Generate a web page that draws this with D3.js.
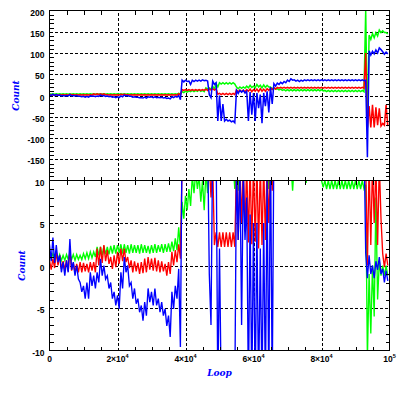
<!DOCTYPE html>
<html><head><meta charset="utf-8">
<script src="https://cdn.jsdelivr.net/npm/d3@7"></script>
<style>body{margin:0;background:#fff}svg{display:block}</style>
</head><body><svg id="c" width="399" height="399"></svg>
<script>
// ---- data (sample start loops, step 1000; each sample has a low and a high value) ----
const loops = d3.range(0, 100000, 1000);
const xMajor = [0, 20000, 40000, 60000, 80000, 100000];
const xTickLabels = [["0",""],["2×10","4"],["4×10","4"],["6×10","4"],["8×10","4"],["10","5"]];
const yTopTicks = [200,150,100,50,0,-50,-100,-150,-200];
const yTopLabels = [200,150,100,50,0,-50,-100,-150];
const yBotTicks = [10,5,0,-5,-10];

// top panel (Count, -200..200)
const topBlueLo = [0,0,0,-1,-1,-1,-1,-1,-2,-3, -4,-4,-2,-3,-2,-1,-2,-3,-4,-5, -5,-3,-1,-2,-4,-4,-5,-6,-6,-4,
  -5,-5,-5,-6,-7,-8,-5,-4,-10,32, 33,26,33,34,34,35,34,-5,26,-60, -60,-60,-60,-62,-64,5,8,6,-60,-45,
  -60,-30,-65,-25,-40,-20,22,26,28,30, 33,36,34,33,34,35,35,35,35,35, 35,35,35,35,35,35,35,35,35,35,
  35,35,35,-145,95,98,100,108,97,98];
const topBlueHi = [2,3,2,1,0,0,2,0,0,-2, -2,-2,-1,-1,-1,1,0,-1,-2,-3, -3,-1,1,0,-2,-3,-4,-5,-4,-3,
  -3,-3,-4,-4,-5,-6,-3,-2,0,36, 36,34,36,36,36,37,36,2,34,30, 0,-20,-56,-58,-60,12,12,12,10,8,
  6,6,2,6,10,20,28,29,31,33, 36,39,37,36,36,37,37,37,37,37, 37,37,37,37,37,37,37,37,37,37,
  37,37,37,36,105,104,107,112,103,102];
const topRedLo = [1,1,1,1,1,1,2,1,1,1, 1,1,1,2,2,2,2,1,1,1, 1,2,2,1,1,1,1,1,1,1,
  1,1,1,1,1,1,1,1,1,12, 12,12,12,12,12,12,12,13,13,3, 2,2,2,2,2,9,9,9,10,9,
  10,9,10,10,12,14,15,17,17,17, 17,17,17,17,17,17,17,17,17,17, 17,17,17,17,17,17,17,17,17,17,
  17,17,17,-75,-75,-75,-70,-72,-70,-72];
const topRedHi = [2,2,2,2,2,2,3,2,2,2, 2,2,2,4,4,4,4,2,2,2, 2,3,3,2,2,2,2,2,2,2,
  2,2,2,2,2,2,2,2,4,14, 14,14,14,14,14,14,15,16,16,16, 5,5,5,5,5,13,13,13,14,15,
  14,15,16,15,16,17,18,19,19,19, 19,19,19,19,19,19,19,19,19,19, 19,19,19,19,19,19,19,19,19,19,
  19,19,19,100,-25,-22,-28,-30,-66,-22];
const topGreenLo = [3,3,3,3,3,3,3,3,3,3, 3,3,3,3,3,3,3,3,3,3, 3,3,3,3,3,3,3,3,3,3,
  3,3,3,3,3,3,3,3,3,7, 8,9,9,10,10,9,15,15,15,20, 27,27,27,27,27,16,17,17,18,19,
  18,20,18,19,20,16,15,13,12,11, 11,11,11,11,11,11,11,11,11,11, 11,9,9,9,9,9,9,9,9,9,
  9,9,9,-77,132,136,140,148,148,145];
const topGreenHi = [4,4,4,4,4,4,4,4,4,4, 4,4,4,4,4,4,4,4,4,4, 4,4,4,4,4,4,4,4,4,4,
  4,4,4,4,4,4,4,4,5,9, 10,11,12,12,13,12,18,18,22,28, 30,30,30,30,30,20,20,20,22,24,
  22,26,24,25,24,20,18,16,15,14, 14,14,14,14,14,14,14,14,14,14, 14,12,12,12,12,12,12,12,12,12,
  12,12,12,200,142,146,148,154,152,148];

// bottom panel (Count, -10..10)
const botBlueLo = [0.5,0.3,0.4,-0.8,-1.2,-0.8,-0.5,-1.2,-1.6,-3.1, -3.9,-3.9,-2.4,-2.7,-2,-1.2,-1.6,-2.7,-3.9,-4.7,
  -5.1,-2.7,-0.8,-2.4,-3.9,-4.5,-5.5,-6.5,-5.9,-4.3, -4.7,-4.7,-5.5,-5.9,-7.1,-8.4,-5.1,-3.9,-9.6,15,
  15,15,15,15,15,15,15,-7,15,-15, -15,-15,-15,-15,-15,3,-7,3,-15,-15, -15,-15,-15,-15,-15,-15,15,15,15,15,
  15,15,15,15,15,15,15,15,15,15, 15,15,15,15,15,15,15,15,15,15, 15,15,15,-1.5,-1,-1.5,-0.5,-1,-2,-1.8];
const botBlueHi = [2.5,3.3,2.4,1.2,0.4,0.6,3.1,0.4,0,-2, -2.4,-2,-0.8,-1.2,-0.8,0.8,0,-1.2,-2,-3.1,
  -3.5,-0.8,1,0,-2,-2.7,-3.9,-4.7,-4.3,-2.7, -3.1,-2.7,-3.9,-4.3,-5.1,-5.9,-3.1,-2.4,-0.4,15,
  15,15,15,15,15,15,15,-1,15,15, 2,-15,-15,-15,-15,12,12,11,8,6, 5,5,2,5,10,15,15,15,15,15,
  15,15,15,15,15,15,15,15,15,15, 15,15,15,15,15,15,15,15,15,15, 15,15,15,1.5,1.2,0,0.5,1,-0.4,-0.6];
const botRedLo = [-0.5,-0.3,0,-0.4,-0.5,-0.7,-0.6,-0.8,-0.8,-0.8, -0.7,-0.8,-0.6,-0.8,0,0.3,0.5,0.2,-0.4,-0.2,
  0.2,0.5,0.4,-0.3,-0.8,-0.7,-1,-0.9,-0.8,-0.5, -0.6,-0.7,-0.8,-0.7,-1.2,-1,0,0.4,0.8,12,
  12,12,12,12,12,12,12,8,2.4,2.2, 2.2,2.2,2.2,2.2,2.2,3,5,4,2.7,2.5, 2.8,2,2.4,3,5,8.8,12,12,12,12,
  12,12,12,12,12,12,12,12,12,12, 12,12,12,12,12,12,12,12,12,12, 12,12,12,0,2.4,5,2.4,5.5,-0.2,0];
const botRedHi = [0.6,0.8,1.6,1.2,0.5,0.6,1.8,0.3,0.2,0.4, 0.3,0.2,0.4,0.4,2,2.2,2.4,1.8,1,1.2,
  1.6,2,2,1,0.6,0.5,0.3,0.4,0.8,1, 0.8,0.9,0.6,0.5,0.2,0.4,1.6,1.8,2.5,12,
  12,12,12,12,12,12,12,12,12,3.9, 3.9,3.9,3.9,3.9,3.9,12,12,12,12,12, 12,12,12,12,12,12,12,12,12,12,
  12,12,12,12,12,12,12,12,12,12, 12,12,12,12,12,12,12,12,12,12, 12,12,12,12,12,12,12,12,1.4,1.4];
const botGreenLo = [0.8,0.7,0.7,0.6,0.6,0.7,0.7,0.6,0.7,0.7, 0.8,0.8,0.9,1,1.2,1.2,1.3,1.3,1.4,1.4,
  1.5,1.4,1.5,1.4,1.5,1.5,1.4,1.5,1.5,1.4, 1.5,1.5,1.6,1.5,1.6,1.6,1.7,1.8,2,5.5,
  6.5,7,8.5,9,7.5,6.5,8.5,12,12,12, 12,12,12,12,9,8.8,12,12,12,12, 12,12,12,12,9,12,12,12,12,12,
  12,8.8,12,12,12,9.7,12,12,12,12, 9.2,9,9,9,9,9,9,9,9,9, 9,9,9,-11,-8,-6,-4,-1.2,-1.2,-1.2];
const botGreenHi = [1.4,1.4,1.3,1.3,1.2,1.3,1.4,1.3,1.3,1.2, 1.4,1.5,1.6,1.6,2.2,2.2,2.3,2.2,2.3,2.4,
  2.4,2.5,2.5,2.4,2.5,2.4,2.4,2.5,2.4,2.3, 2.4,2.5,2.4,2.5,2.5,2.6,2.8,3.2,4.5,7.5,
  8.2,9,10.5,11,10.5,10,11,12,12,12, 12,12,12,12,12,12,12,12,12,12, 12,12,12,12,12,12,12,12,12,12,
  12,12,12,12,12,12,12,12,12,12, 10,10,10,10,10,10,10,10,10,10, 10,10,10,9.5,-1,0,8,0.5,0,0];

// ---- drawing ----
const svg = d3.select("#c");
svg.append("rect").attr("width",399).attr("height",399).attr("fill","#fff");
const X0 = 49.5, X1 = 389.5;
const x = d3.scaleLinear().domain([0,100000]).range([X0,X1]);
const yT = d3.scaleLinear().domain([-200,200]).range([180.5,10.5]);
const yB = d3.scaleLinear().domain([-10,10]).range([350.5,180.5]);
const BLUE="#0000ff", RED="#ff0000", GREEN="#00ff00";
const tickFont = "'Liberation Sans', Arial, sans-serif";
const titleFont = "'DejaVu Serif', serif";

function pts(lo, hi){ return loops.flatMap((l,i)=>[[l,hi[i]],[l+500,lo[i]]]); }

function panel(y, minorY, majorY, labelsY, series, id, cover, sw){
  const g = svg.append("g");
  if (cover) g.append("rect").attr("x",0).attr("y",y.range()[1]-0.5).attr("width",399).attr("height",399).attr("fill","#fff");
  const [yb, yt] = y.range();
  // grid
  const inner = majorY.filter(v => v !== y.domain()[0] && v !== y.domain()[1]);
  g.append("g").attr("transform",`translate(${X0},0)`)
    .call(d3.axisLeft(y).tickValues(inner).tickSize(-(X1-X0)).tickFormat(""))
    .call(s=>{s.select(".domain").remove(); s.selectAll("line").attr("stroke","#000").attr("stroke-dasharray","3,2").attr("shape-rendering","crispEdges");});
  g.append("g").attr("transform",`translate(0,${yb})`)
    .call(d3.axisBottom(x).tickValues(xMajor.slice(1,-1)).tickSize(-(yb-yt)).tickFormat(""))
    .call(s=>{s.select(".domain").remove(); s.selectAll("line").attr("stroke","#000").attr("stroke-dasharray","3,2").attr("shape-rendering","crispEdges");});
  // series
  g.append("clipPath").attr("id",id).append("rect").attr("x",X0).attr("y",yt).attr("width",X1-X0).attr("height",yb-yt);
  const line = d3.line().x(d=>x(d[0])).y(d=>y(d[1]));
  const sg = g.append("g").attr("clip-path",`url(#${id})`);
  series.forEach(s => sg.append("path").attr("d", line(pts(s.lo, s.hi))).attr("fill","none").attr("stroke",s.color).attr("stroke-width",sw));
  // frame
  g.append("rect").attr("x",X0).attr("y",yt).attr("width",X1-X0).attr("height",yb-yt).attr("fill","none").attr("stroke","#000").attr("shape-rendering","crispEdges");
  // minor ticks
  const xMinor = d3.range(5000,100000,5000).filter(v=>v%20000!==0);
  const st = s=>{s.select(".domain").remove(); s.selectAll("line").attr("stroke","#000").attr("shape-rendering","crispEdges");};
  g.append("g").attr("transform",`translate(0,${yt})`).call(d3.axisBottom(x).tickValues(xMinor).tickSize(4).tickFormat("")).call(st);
  g.append("g").attr("transform",`translate(0,${yb})`).call(d3.axisTop(x).tickValues(xMinor).tickSize(4).tickFormat("")).call(st);
  g.append("g").attr("transform",`translate(${X0},0)`).call(d3.axisRight(y).tickValues(minorY).tickSize(4).tickFormat("")).call(st);
  g.append("g").attr("transform",`translate(${X1},0)`).call(d3.axisLeft(y).tickValues(minorY).tickSize(4).tickFormat("")).call(st);
  // y labels
  g.append("g").attr("transform",`translate(${X0},0)`)
    .call(d3.axisLeft(y).tickValues(labelsY).tickSize(0).tickPadding(5).tickFormat(d=>String(d)))
    .call(s=>{s.select(".domain").remove(); s.selectAll("text").attr("font-family",tickFont).attr("font-weight","bold").attr("font-size",8.5).attr("fill","#000").attr("dy","0.55em");});
  return g;
}

const minorTop = d3.range(-190,200,10).filter(v=>v%50!==0);
const minorBot = d3.range(-9,10,1).filter(v=>v%5!==0);

panel(yT, minorTop, yTopTicks, yTopLabels,
  [{lo:topGreenLo,hi:topGreenHi,color:GREEN},{lo:topRedLo,hi:topRedHi,color:RED},{lo:topBlueLo,hi:topBlueHi,color:BLUE}], "clipT", false, 1.5);
panel(yB, minorBot, yBotTicks, yBotTicks,
  [{lo:botGreenLo,hi:botGreenHi,color:GREEN},{lo:botRedLo,hi:botRedHi,color:RED},{lo:botBlueLo,hi:botBlueHi,color:BLUE}], "clipB", true, 1.35);

// x labels
const xl = svg.append("g");
xMajor.forEach((v,i)=>{
  const t = xl.append("text").attr("x",x(v)).attr("y",362).attr("text-anchor","middle")
    .attr("font-family",tickFont).attr("font-weight","bold").attr("font-size",8.5).attr("fill","#000");
  t.append("tspan").text(xTickLabels[i][0]);
  if (xTickLabels[i][1]) t.append("tspan").attr("dy",-4).attr("font-size",5.5).text(xTickLabels[i][1]);
});

// titles
svg.append("text").attr("transform",`translate(16,${yT(0)}) rotate(-90)`).attr("text-anchor","middle").attr("dominant-baseline","central")
  .attr("font-family",titleFont).attr("font-style","italic").attr("font-weight","bold").attr("font-size",9).attr("fill",BLUE).text("Count");
svg.append("text").attr("transform",`translate(21.7,${yB(0)}) rotate(-90)`).attr("text-anchor","middle").attr("dominant-baseline","central")
  .attr("font-family",titleFont).attr("font-style","italic").attr("font-weight","bold").attr("font-size",9).attr("fill",BLUE).text("Count");
svg.append("text").attr("x",(X0+X1)/2).attr("y",372.5).attr("text-anchor","middle").attr("dominant-baseline","central")
  .attr("font-family",titleFont).attr("font-style","italic").attr("font-weight","bold").attr("font-size",9).attr("fill",BLUE).text("Loop");
</script></body></html>
